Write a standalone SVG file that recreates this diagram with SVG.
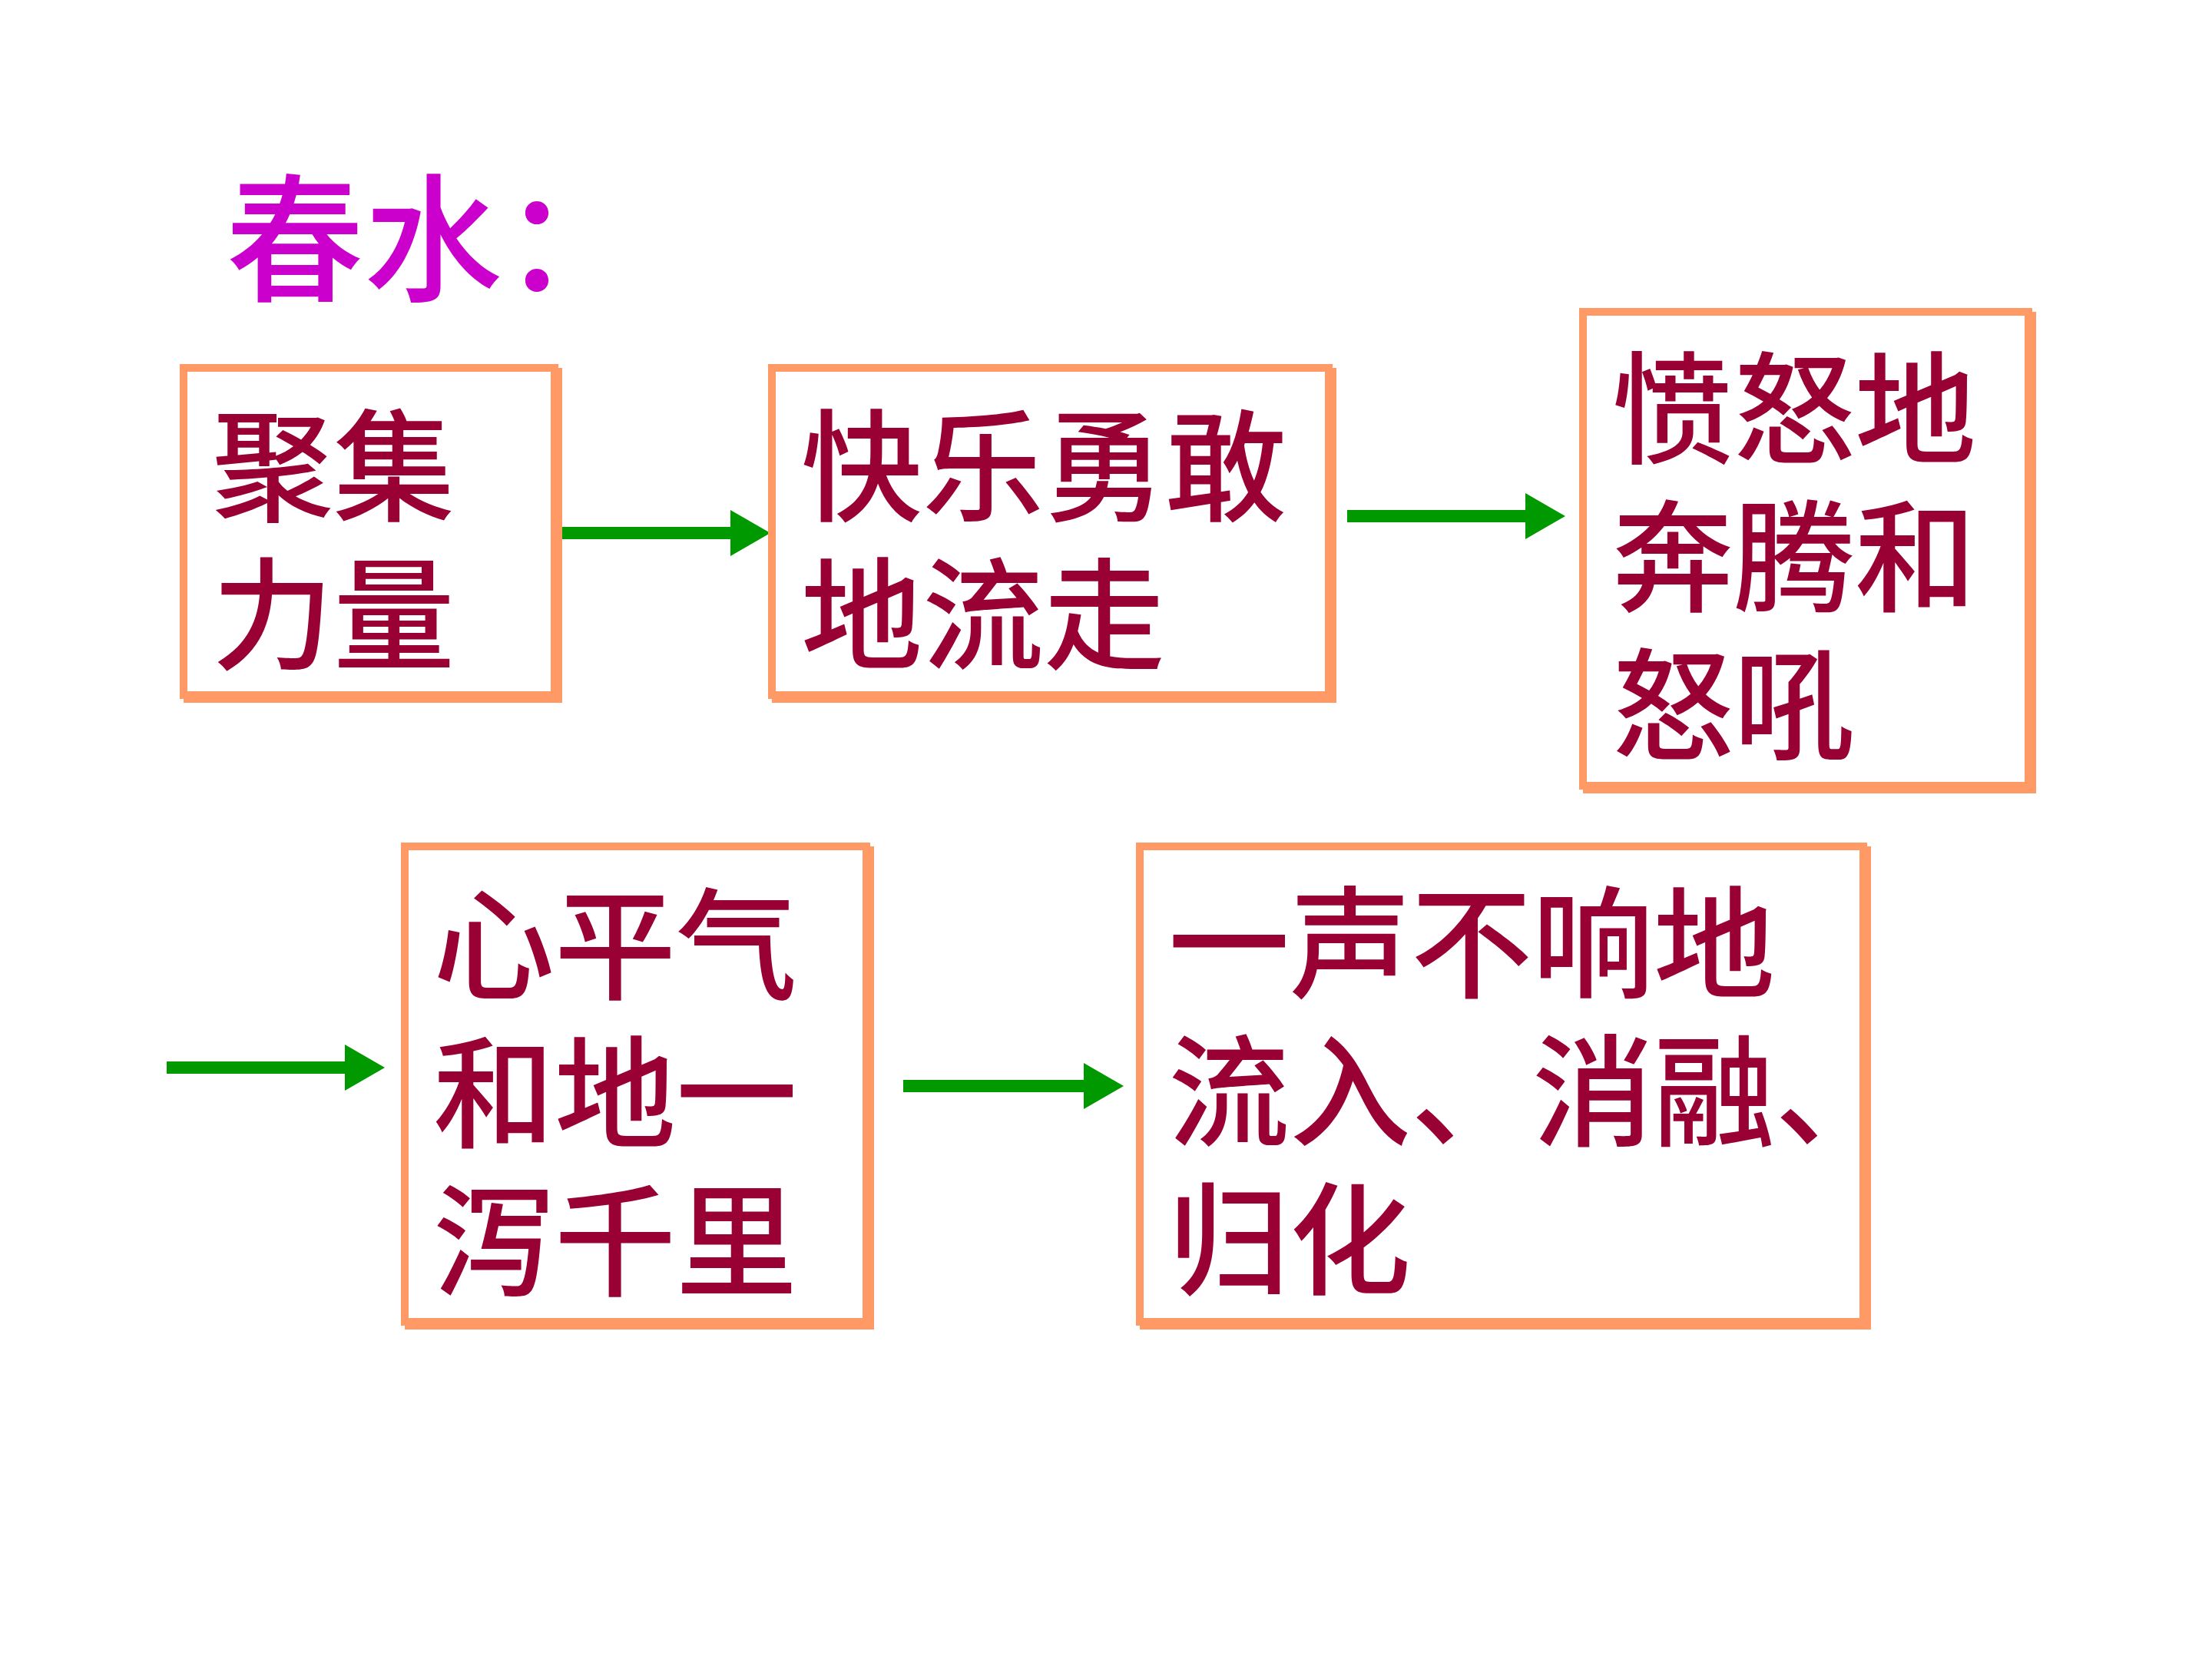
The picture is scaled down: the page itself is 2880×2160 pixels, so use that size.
<svg xmlns="http://www.w3.org/2000/svg" width="2880" height="2160" viewBox="0 0 2880 2160">
<defs>
<style>
.box{fill:#FFFFFF;stroke:#FF9966;stroke-width:10}
.shadow{fill:none;stroke:#FF9966;stroke-width:10}
.t{font-family:"Noto Sans CJK SC","Noto Sans CJK JP",sans-serif;font-size:158px;font-weight:500;fill:#990033}
.title{font-family:"Noto Sans CJK SC","Noto Sans CJK JP",sans-serif;font-size:180px;font-weight:500;fill:#CC00CC}
.arrow{stroke:#009900;stroke-width:16;fill:none}
</style>
<marker id="ah" markerUnits="userSpaceOnUse" markerWidth="54" markerHeight="60" refX="1" refY="30" orient="auto">
<polygon points="0,0 52,30 0,60" fill="#009900"/>
</marker>
</defs>
<rect width="2880" height="2160" fill="#FFFFFF"/>
<g id="title"><text class="title" x="294" y="378">春水：</text></g>
<g id="connectors">
<line class="arrow" x1="722" y1="694" x2="952" y2="694" marker-end="url(#ah)"/>
<line class="arrow" x1="1754" y1="672" x2="1987" y2="672" marker-end="url(#ah)"/>
<line class="arrow" x1="217" y1="1390" x2="450" y2="1390" marker-end="url(#ah)"/>
<line class="arrow" x1="1176" y1="1414" x2="1412" y2="1414" marker-end="url(#ah)"/>
</g>
<g id="n1">
<rect class="shadow" x="244" y="484" width="483" height="426"/>
<rect class="box" x="239" y="479" width="483" height="426"/>
<text class="t" x="276" y="666">聚集</text>
<text class="t" x="276" y="859">力量</text>
</g>
<g id="n2">
<rect class="shadow" x="1010" y="484" width="725" height="426"/>
<rect class="box" x="1005" y="479" width="725" height="426"/>
<text class="t" x="1043" y="666">快乐勇敢</text>
<text class="t" x="1043" y="859">地流走</text>
</g>
<g id="n3">
<rect class="shadow" x="2066" y="411" width="580" height="617"/>
<rect class="box" x="2061" y="406" width="580" height="617"/>
<text class="t" x="2099" y="591">愤怒地</text>
<text class="t" x="2099" y="784">奔腾和</text>
<text class="t" x="2099" y="977">怒吼</text>
</g>
<g id="n4">
<rect class="shadow" x="532" y="1107" width="601" height="619"/>
<rect class="box" x="527" y="1102" width="601" height="619"/>
<text class="t" x="564" y="1289">心平气</text>
<text class="t" x="564" y="1482">和地一</text>
<text class="t" x="564" y="1675">泻千里</text>
</g>
<g id="n5">
<rect class="shadow" x="1489" y="1107" width="942" height="619"/>
<rect class="box" x="1484" y="1102" width="942" height="619"/>
<text class="t" x="1521" y="1287">一声不响地</text>
<text class="t" x="1521" y="1480">流入、消融、</text>
<text class="t" x="1521" y="1673">归化</text>
</g>
</svg>
